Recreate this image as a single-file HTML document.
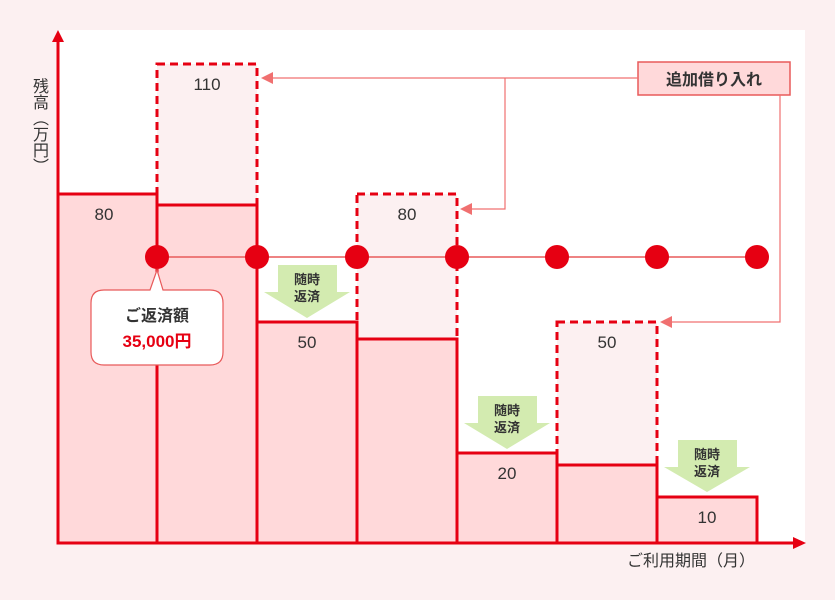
<!DOCTYPE html>
<html><head><meta charset="utf-8"><style>
html,body{margin:0;padding:0;background:#fcf0f1;}
svg{display:block;font-family:"Liberation Sans","Noto Sans CJK JP",sans-serif;}
.yl{position:absolute;left:28px;top:78px;writing-mode:vertical-rl;font-family:"Liberation Sans","Noto Sans CJK JP",sans-serif;font-size:16px;color:#333;line-height:20px;letter-spacing:0;}
</style></head><body>
<div class="yl">残高（万円）</div>
<svg width="835" height="600" viewBox="0 0 835 600" xmlns="http://www.w3.org/2000/svg">
<rect width="835" height="600" fill="#fcf0f1"/>
<rect x="58" y="30" width="747" height="513" fill="#fff"/>
<g fill="#fcf0f1" stroke="#e60012" stroke-width="3" stroke-dasharray="8,5">
<rect x="157" y="64" width="100" height="141"/>
<rect x="357" y="194" width="100" height="145"/>
<rect x="557" y="322" width="100" height="143"/>
</g>
<g fill="#ffd9da" stroke="#e60012" stroke-width="3">
<rect x="58" y="194" width="99" height="349"/>
<rect x="157" y="205" width="100" height="338"/>
<rect x="257" y="322" width="100" height="221"/>
<rect x="357" y="339" width="100" height="204"/>
<rect x="457" y="453" width="100" height="90"/>
<rect x="557" y="465" width="100" height="78"/>
<rect x="657" y="497" width="100" height="46"/>
</g>
<line x1="58" y1="543" x2="58" y2="40" stroke="#e60012" stroke-width="3"/>
<polygon points="52,42 64,42 58,30" fill="#e60012"/>
<line x1="58" y1="543" x2="795" y2="543" stroke="#e60012" stroke-width="3"/>
<polygon points="793,537 793,549 806,543" fill="#e60012"/>
<g fill="#d3ebb0">
<polygon points="278,265 337,265 337,292 350,292 307,318 264,292 278,292"/>
<polygon points="478,396 537,396 537,423 550,423 507,449 464,423 478,423"/>
<polygon points="678,440 737,440 737,467 750,467 707,492 664,467 678,467"/>
</g>
<g font-size="13" fill="#333" text-anchor="middle" font-weight="bold">
<text x="307" y="284">随時</text><text x="307" y="301">返済</text>
<text x="507" y="415">随時</text><text x="507" y="432">返済</text>
<text x="707" y="459">随時</text><text x="707" y="476">返済</text>
</g>
<line x1="157" y1="257" x2="757" y2="257" stroke="#e85a5a" stroke-width="1.5"/>
<g fill="#e60012">
<circle cx="157" cy="257" r="12"/><circle cx="257" cy="257" r="12"/><circle cx="357" cy="257" r="12"/>
<circle cx="457" cy="257" r="12"/><circle cx="557" cy="257" r="12"/><circle cx="657" cy="257" r="12"/><circle cx="757" cy="257" r="12"/>
</g>
<path d="M104,290 H150 L157,270 L163,290 H210 Q223,290 223,303 V352 Q223,365 210,365 H104 Q91,365 91,352 V303 Q91,290 104,290 Z" fill="#fff" stroke="#e85a5a" stroke-width="1.2"/>
<text x="157" y="321" font-size="16" font-weight="bold" fill="#333" text-anchor="middle">ご返済額</text>
<text x="157" y="347" font-size="17" font-weight="bold" fill="#e60012" text-anchor="middle">35,000円</text>
<g font-size="17" fill="#333" text-anchor="middle">
<text x="104" y="220">80</text>
<text x="207" y="90">110</text>
<text x="307" y="348">50</text>
<text x="407" y="220">80</text>
<text x="507" y="479">20</text>
<text x="607" y="348">50</text>
<text x="707" y="523">10</text>
</g>
<text x="691" y="566" font-size="16" fill="#333" text-anchor="middle">ご利用期間（月）</text>
<rect x="638" y="62" width="152" height="33" fill="#ffd9da" stroke="#e85a5a" stroke-width="1.5"/>
<text x="714" y="85" font-size="16" font-weight="bold" fill="#333" text-anchor="middle">追加借り入れ</text>
<g stroke="#f07070" stroke-width="1.2" fill="none">
<polyline points="638,78 270,78"/>
<polyline points="505,78 505,209 470,209"/>
<polyline points="780,95 780,322 670,322"/>
</g>
<g fill="#f07070">
<polygon points="261,78 273,72 273,84"/>
<polygon points="460,209 472,203 472,215"/>
<polygon points="660,322 672,316 672,328"/>
</g>
</svg>
</body></html>
